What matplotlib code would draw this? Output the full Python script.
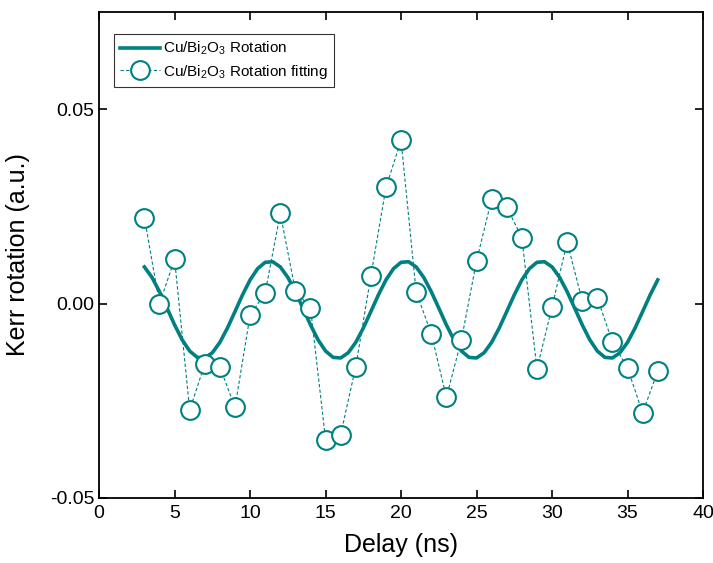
import numpy as np
import matplotlib
matplotlib.use("Agg")
import matplotlib.pyplot as plt

plt.rcParams['font.family'] = ['Liberation Sans', 'DejaVu Sans']
plt.rcParams['axes.unicode_minus'] = False
plt.rcParams['mathtext.fontset'] = 'custom'
plt.rcParams['mathtext.rm'] = 'Liberation Sans'
plt.rcParams['mathtext.it'] = 'Liberation Sans:italic'

# measured points (Delay in ns, Kerr rotation)
delay = np.arange(3, 38)
kerr = [0.0221, 0.0000, 0.0114, -0.0274, -0.0155, -0.0163, -0.0267, -0.0030,
        0.0028, 0.0232, 0.0033, -0.0011, -0.0350, -0.0337, -0.0162, 0.0071,
        0.0299, 0.0420, 0.0030, -0.0077, -0.0241, -0.0093, 0.0110, 0.0269,
        0.0248, 0.0170, -0.0168, -0.0009, 0.0159, 0.0007, 0.0015, -0.0099,
        -0.0166, -0.0281, -0.0174]

fit_x = np.arange(3, 37.01, 0.5)
one_period = [0.00944, 0.00676, 0.00308, -0.00116, -0.00546, -0.00930,
              -0.01220, -0.01383, -0.01398, -0.01264, -0.00996, -0.00628,
              -0.00204, 0.00226, 0.00610, 0.00900, 0.01063, 0.01078]
fit_y = (one_period * 4)[:len(fit_x)]

teal = '#008080'

fig = plt.figure(figsize=(7.13, 5.63), dpi=100)
ax = fig.add_axes([0.139, 0.1155, 0.847, 0.863])

ax.plot(fit_x, fit_y, '-', color=teal, lw=2.6, solid_joinstyle='round',
        label=r'Cu/Bi$_\mathrm{2}$O$_\mathrm{3}$ Rotation')
ax.plot(delay, kerr, '--', color=teal, lw=0.8, dashes=(3, 2),
        marker='o', markersize=13.5, markerfacecolor='white',
        markeredgecolor=teal, markeredgewidth=1.5,
        label=r'Cu/Bi$_\mathrm{2}$O$_\mathrm{3}$ Rotation fitting')

ax.set_xlim(0, 40)
ax.set_ylim(-0.05, 0.075)
ax.set_xticks(np.arange(0, 41, 5))
ax.set_yticks([-0.05, 0.00, 0.05])
ax.set_yticklabels(['-0.05', '0.00', '0.05'])
ax.tick_params(direction='in', length=6, width=1.2, top=True, right=True,
               labelsize=14)
ax.tick_params(axis='x', pad=5)
for s in ax.spines.values():
    s.set_linewidth(1.3)

ax.set_xlabel('Delay (ns)', fontsize=18, labelpad=8)
ax.set_ylabel('Kerr rotation (a.u.)', fontsize=18, labelpad=14)

leg = ax.legend(loc='upper left', bbox_to_anchor=(0.025, 0.955),
                fontsize=11, frameon=True, fancybox=False, edgecolor='black',
                handlelength=2.6, handletextpad=0.2, borderpad=0.4,
                labelspacing=0.35, borderaxespad=0)
leg.get_frame().set_linewidth(0.8)

fig.savefig('out.png', dpi=100)
